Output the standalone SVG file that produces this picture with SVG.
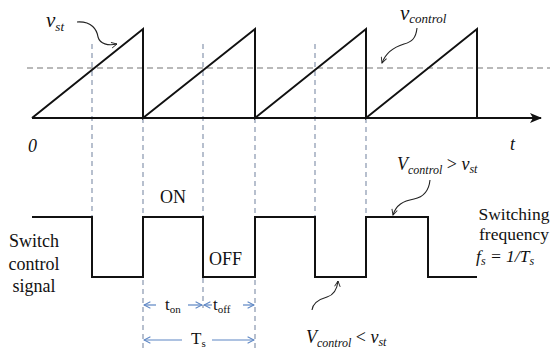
<svg xmlns="http://www.w3.org/2000/svg" width="554" height="351" viewBox="0 0 554 351">
<style>
.w{fill:none;stroke:#111;stroke-width:2;stroke-linejoin:miter}
.vd{stroke:#7d8ca6;stroke-width:1.1;stroke-dasharray:5,4;fill:none}
.hd{stroke:#a3a3a3;stroke-width:1.3;stroke-dasharray:6,4;fill:none}
.cv{fill:none;stroke:#222;stroke-width:1.1}
.dim{fill:none;stroke:#5d86c4;stroke-width:1.2}
text{font-family:"Liberation Serif","Times New Roman",serif;fill:#111}
.it{font-style:italic}
.lb{font-size:18px}
.fr{font-size:17.5px}
</style>
<defs>
<marker id="oa" viewBox="0 0 10 10" refX="9" refY="5" markerWidth="7" markerHeight="7" orient="auto" markerUnits="userSpaceOnUse">
<path d="M1,1 L9,5 L1,9" fill="none" stroke="#222" stroke-width="1.3"/>
</marker>
<marker id="da" viewBox="0 0 10 10" refX="9" refY="5" markerWidth="8" markerHeight="8" orient="auto" markerUnits="userSpaceOnUse">
<path d="M1,1 L9,5 L1,9" fill="none" stroke="#5d86c4" stroke-width="1.3"/>
</marker>
<marker id="ax" viewBox="0 0 12 10" refX="11" refY="5" markerWidth="12" markerHeight="10" orient="auto" markerUnits="userSpaceOnUse">
<path d="M0,0 L12,5 L0,10 L3,5 Z" fill="#111"/>
</marker>
</defs>

<g id="guides">
<line class="hd" x1="27" y1="68" x2="550" y2="68"/>
<line class="vd" x1="92" y1="44" x2="92" y2="217"/>
<line class="vd" x1="143" y1="118" x2="143" y2="350"/>
<line class="vd" x1="203" y1="44" x2="203" y2="308"/>
<line class="vd" x1="255" y1="118" x2="255" y2="350"/>
<line class="vd" x1="315" y1="44" x2="315" y2="217"/>
<line class="vd" x1="366" y1="118" x2="366" y2="217"/>
</g>

<g id="axis">
<line x1="32" y1="118" x2="541" y2="118" stroke="#111" stroke-width="2" marker-end="url(#ax)"/>
<text class="it" x="28" y="152" font-size="18">0</text>
<text class="it" x="510" y="150" font-size="18">t</text>
</g>

<g id="sawtooth">
<path class="w" d="M32,118 L143,29 L143,118 L255,29 L255,118 L366,29 L366,118 L477,29 L477,118"/>
</g>

<g id="switch-signal">
<path class="w" d="M32,217 H92 V277 H143 V217 H203 V277 H255 V217 H315 V277 H366 V217 H428 V277 H477"/>
</g>

<g id="label-vst">
<text class="it" x="46" y="27" font-size="21">v<tspan font-size="13" dy="4">st</tspan></text>
</g>
<g id="label-vcontrol">
<text class="it" x="400" y="20" font-size="21">v<tspan font-size="13" dy="3">control</tspan></text>
</g>
<g id="label-on"><text class="lb" x="160" y="203">ON</text></g>
<g id="label-off"><text class="lb" x="209" y="265">OFF</text></g>
<g id="label-switch">
<text class="lb" text-anchor="middle" x="34" y="247">Switch</text>
<text class="lb" text-anchor="middle" x="34" y="270">control</text>
<text class="lb" text-anchor="middle" x="34" y="292">signal</text>
</g>
<g id="label-freq">
<text class="fr" text-anchor="middle" x="514" y="220">Switching</text>
<text class="fr" text-anchor="middle" x="514" y="240">frequency</text>
<text class="it" x="476" y="262" font-size="17.5">f<tspan font-size="12" dy="3">s</tspan><tspan dy="-3"> = 1/T</tspan><tspan font-size="12" dy="3">s</tspan></text>
</g>
<g id="label-gt">
<text class="it" x="397" y="170" font-size="18">V<tspan font-size="12" dy="4">control</tspan><tspan dy="-4" font-style="normal"> &gt; </tspan>v<tspan font-size="12" dy="3">st</tspan></text>
</g>
<g id="label-lt">
<text class="it" x="306" y="343" font-size="18">V<tspan font-size="12" dy="4">control</tspan><tspan dy="-4" font-style="normal"> &lt; </tspan>v<tspan font-size="12" dy="3">st</tspan></text>
</g>
<g id="label-ton"><text font-size="17" x="165" y="310">t<tspan font-size="11" dy="3">on</tspan></text></g>
<g id="label-toff"><text font-size="17" x="213" y="310">t<tspan font-size="11" dy="3">off</tspan></text></g>
<g id="label-ts"><text font-size="17" x="191" y="344">T<tspan font-size="11" dy="3">s</tspan></text></g>

<g id="connectors">
<path class="cv" d="M77,22 C92,21 97,30 98,37 C100,44 108,46 117,44" marker-end="url(#oa)"/>
<path class="cv" d="M417,28 C416,38 412,42 404,44 C394,47 386,52 382,63" marker-end="url(#oa)"/>
<path class="cv" d="M430,180 C429,190 424,197 414,199 C403,201 396,205 393,215" marker-end="url(#oa)"/>
<path class="cv" d="M312,310 C313,302 320,299 327,297 C334,295 337,290 338,281" marker-end="url(#oa)"/>
<line class="dim" x1="156" y1="305" x2="144" y2="305" marker-end="url(#da)"/>
<line class="dim" x1="188" y1="305" x2="202" y2="305" marker-end="url(#da)"/>
<line class="dim" x1="212" y1="305" x2="204" y2="305" marker-end="url(#da)"/>
<line class="dim" x1="243" y1="305" x2="254" y2="305" marker-end="url(#da)"/>
<line class="dim" x1="182" y1="340" x2="144" y2="340" marker-end="url(#da)"/>
<line class="dim" x1="212" y1="340" x2="254" y2="340" marker-end="url(#da)"/>
</g>
</svg>
